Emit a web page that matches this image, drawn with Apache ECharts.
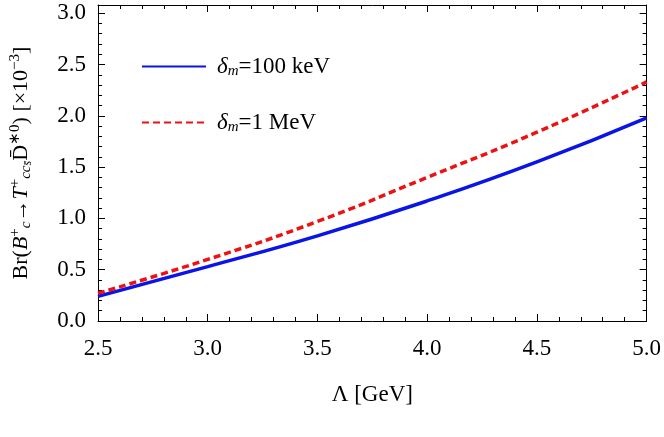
<!DOCTYPE html>
<html>
<head>
<meta charset="utf-8">
<script src="https://cdn.jsdelivr.net/npm/echarts@6/dist/echarts.min.js"></script>
<style>html,body{margin:0;padding:0;background:#fff}#main{width:664px;height:437px}</style>
</head>
<body>
<div id="main"></div>
<script>
const lambda = [2.5, 3.0, 3.5, 4.0, 4.5, 5.0];
const br100keV = [0.24, 0.53, 0.83, 1.17, 1.55, 1.98];
const br1MeV = [0.27, 0.60, 0.97, 1.40, 1.84, 2.33];

const font = 'Liberation Serif';
const pair = (xs, ys) => xs.map((x, i) => [x, ys[i]]);

const chart = echarts.init(document.getElementById('main'));
const tickBase = {
  interval: 0.5,
  axisLine: {show: true, onZero: false, lineStyle: {color: '#000', width: 1}},
  axisTick: {show: true, inside: true, length: 7, lineStyle: {color: '#000'}},
  minorTick: {show: true, splitNumber: 5, length: 4, lineStyle: {color: '#000'}},
  splitLine: {show: false}
};
chart.setOption({
  animation: false,
  grid: {left: 95, right: 9, top: 5, bottom: 116},
  legend: {
    orient: 'vertical', left: 136, top: 50, itemWidth: 64, itemHeight: 12, itemGap: 32,
    data: ['a', 'b'],
    itemStyle: {opacity: 0},
    formatter: n => n === 'a' ? '{i|δ}{s|m}=100 keV' : '{i|δ}{s|m}=1 MeV',
    textStyle: {
      fontFamily: font, fontSize: 23, color: '#000', padding: [0, 0, 0, 6],
      rich: {i: {fontFamily: font, fontStyle: 'italic', fontSize: 23}, s: {fontFamily: font, fontStyle: 'italic', fontSize: 15, verticalAlign: 'bottom', padding: [10, 0, 0, 0]}}
    }
  },
  xAxis: [
    Object.assign({}, tickBase, {type: 'value', min: 2.5, max: 5.0, position: 'bottom',
      name: 'Λ [GeV]', nameLocation: 'middle', nameGap: 62,
      nameTextStyle: {fontFamily: font, fontSize: 23, color: '#000'},
      axisLabel: {fontFamily: font, fontSize: 23, color: '#000', margin: 16, formatter: v => v.toFixed(1)}}),
    Object.assign({}, tickBase, {type: 'value', min: 2.5, max: 5.0, position: 'top', axisLabel: {show: false}})
  ],
  yAxis: [
    Object.assign({}, tickBase, {type: 'value', min: 0, max: 3.08, position: 'left',
      name: '{n|Br(}{i|B}{sup|+}{sb|c}{n|→}{i|T}{sup|+}{sb|cc}{sb2|s̄}{n|D̄}{sup|∗0}{n|) [×10}{sup|−3}{n|]}',
      nameLocation: 'middle', nameGap: 64, nameRotate: 90,
      nameTextStyle: {fontFamily: font, fontSize: 22, color: '#000', rich: {
        n: {fontFamily: font, fontSize: 22, color: '#000'},
        i: {fontFamily: font, fontSize: 22, fontStyle: 'italic', color: '#000'},
        sup: {fontFamily: font, fontSize: 15, color: '#000', verticalAlign: 'top', padding: [0, 0, 10, 0]},
        sb: {fontFamily: font, fontSize: 15, color: '#000', fontStyle: 'italic', verticalAlign: 'bottom', padding: [10, 0, 0, 0]},
        sb2: {fontFamily: font, fontSize: 12, color: '#000', fontStyle: 'italic', verticalAlign: 'bottom', padding: [14, 0, 0, 0]}
      }},
      axisLabel: {fontFamily: font, fontSize: 23, color: '#000', margin: 12, formatter: v => (Math.abs(v * 2 - Math.round(v * 2)) < 1e-6 ? v.toFixed(1) : '')}}),
    Object.assign({}, tickBase, {type: 'value', min: 0, max: 3.08, position: 'right', axisLabel: {show: false}})
  ],
  series: [
    {name: 'a', type: 'line', smooth: true, symbol: 'none', data: pair(lambda, br100keV),
      lineStyle: {color: '#0a14e6', width: 3.5}, itemStyle: {color: '#0a14e6'}},
    {name: 'b', type: 'line', smooth: true, symbol: 'none', data: pair(lambda, br1MeV),
      lineStyle: {color: '#ee1111', width: 3.5, type: [7, 4]}, itemStyle: {color: '#ee1111'}}
  ]
});
</script>
</body>
</html>
